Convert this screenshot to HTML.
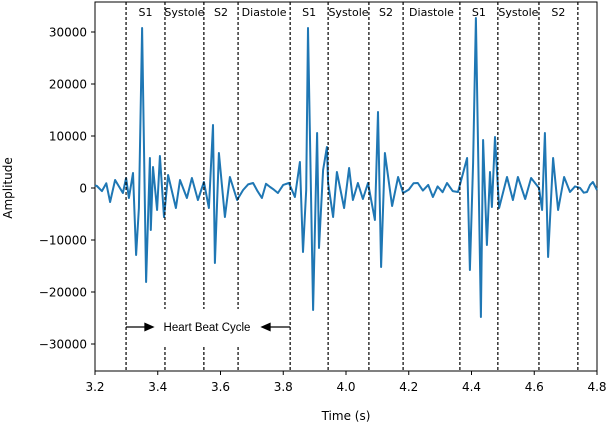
<!DOCTYPE html>
<html><head><meta charset="utf-8"><style>
body{margin:0;background:#fff}
svg{display:block;font-family:"DejaVu Sans","Liberation Sans",sans-serif}
</style></head><body>
<svg id="chart" width="608" height="428">
<rect x="95" y="2" width="502" height="369" fill="#fff" stroke="#000" stroke-width="1"/>
<g id="marks"></g><g id="axes"></g>
<text x="346" y="420" font-size="12" text-anchor="middle">Time (s)</text>
<text transform="translate(12,188) rotate(-90)" font-size="12" text-anchor="middle">Amplitude</text>
</svg>
<script>
const times=[3.2,3.206,3.222,3.236,3.248,3.264,3.289,3.299,3.308,3.321,3.331,3.340,3.350,3.363,3.375,3.378,3.385,3.398,3.407,3.420,3.433,3.458,3.471,3.493,3.509,3.528,3.547,3.563,3.576,3.582,3.595,3.614,3.630,3.653,3.672,3.688,3.704,3.718,3.732,3.745,3.758,3.770,3.783,3.800,3.818,3.837,3.853,3.863,3.873,3.879,3.895,3.908,3.914,3.927,3.939,3.943,3.959,3.971,3.994,4.010,4.022,4.038,4.054,4.070,4.092,4.102,4.112,4.124,4.147,4.166,4.182,4.200,4.215,4.229,4.245,4.262,4.277,4.292,4.308,4.322,4.340,4.357,4.386,4.395,4.405,4.414,4.430,4.437,4.449,4.459,4.465,4.475,4.488,4.513,4.532,4.548,4.571,4.590,4.615,4.625,4.634,4.644,4.660,4.676,4.695,4.714,4.730,4.746,4.758,4.768,4.778,4.787,4.800];
const amps=[500,385,-600,900,-2690,1540,-960,1920,-1920,2880,-12880,-3850,30770,-18080,5770,-8080,4040,-4230,6150,-5580,2500,-3850,1540,-1920,1920,-2310,1150,-3850,12120,-14420,6730,-5580,2120,-2310,-380,700,960,-600,-1920,800,190,-300,-960,600,960,-1730,5000,-12310,-380,30770,-23460,10580,-11540,3460,7880,960,-5580,3080,-3850,3850,-2310,960,-2120,960,-6150,14620,-15190,6730,-3460,2120,-960,-300,900,960,-500,600,-1730,300,-800,960,-600,-770,5770,-15770,4810,32690,-24810,9230,-10960,3080,-3650,9810,-3850,2120,-2310,2120,-2120,1920,0,-4230,10580,-13270,5770,-4230,2120,-770,300,0,-900,-770,600,1150,-380];
const boundaries=[3.299,3.423,3.547,3.656,3.822,3.943,4.073,4.182,4.363,4.484,4.615,4.739];
const phaseLabels=["S1","Systole","S2","Diastole","S1","Systole","S2","Diastole","S1","Systole","S2"];
const xTicks=[3.2,3.4,3.6,3.8,4.0,4.2,4.4,4.6,4.8];
const xTickLabels=["3.2","3.4","3.6","3.8","4.0","4.2","4.4","4.6","4.8"];
const yTicks=[30000,20000,10000,0,-10000,-20000,-30000];
const yTickLabels=["30000","20000","10000","0","−10000","−20000","−30000"];
const NS="http://www.w3.org/2000/svg";
const X=t=>95+(t-3.2)/1.6*502;
const Y=v=>188-v*0.0052;
function mk(tag,attrs,parent){const e=document.createElementNS(NS,tag);for(const k in attrs)e.setAttribute(k,attrs[k]);parent.appendChild(e);return e;}
const marks=document.getElementById('marks'),axes=document.getElementById('axes');
let d=times.map((t,i)=>(i?'L':'M')+X(t).toFixed(1)+','+Y(amps[i]).toFixed(1)).join('');
const line=mk('path',{d:d,fill:'none',stroke:'#1f77b4','stroke-width':2,'stroke-linejoin':'round'},marks);


boundaries.forEach((b,i)=>{
 const l=mk('line',{x1:X(b),x2:X(b),y1:2,y2:371,stroke:'#000','stroke-width':1.2,'stroke-dasharray':'3,2'},marks);
 
 
});
phaseLabels.forEach((s,i)=>{
 const t=mk('text',{x:(X(boundaries[i])+X(boundaries[i+1]))/2,y:16,'font-size':11,'text-anchor':'middle'},marks);
 t.textContent=s;
 
 
});
const bg=mk('rect',{x:155,y:309,width:105,height:36,fill:'#fff'},marks);


const a1=mk('path',{d:`M${X(boundaries[0])},327H147M145,323.5L153,327L145,330.5Z`,stroke:'#000',fill:'#000','stroke-width':1.3},marks);


const a2=mk('path',{d:`M${X(boundaries[4])},327H268M270,323.5L262,327L270,330.5Z`,stroke:'#000',fill:'#000','stroke-width':1.3},marks);


const ct=mk('text',{x:207,y:331,'font-size':11.5,'text-anchor':'middle','font-family':'Liberation Sans, sans-serif'},marks);
ct.textContent='Heart Beat Cycle';


xTicks.forEach((t,i)=>{
 const tk=mk('line',{x1:X(t),x2:X(t),y1:371,y2:375,stroke:'#000'},axes);
 
 
 const tx=mk('text',{x:X(t),y:391,'font-size':12,'text-anchor':'middle'},axes);
 tx.textContent=xTickLabels[i];
 
 
});
yTicks.forEach((v,i)=>{
 const tk=mk('line',{x1:91,x2:95,y1:Y(v),y2:Y(v),stroke:'#000'},axes);
 
 
 const tx=mk('text',{x:87,y:Y(v)+4.5,'font-size':12,'text-anchor':'end'},axes);
 tx.textContent=yTickLabels[i];
 
 
});
</script>
</body></html>
